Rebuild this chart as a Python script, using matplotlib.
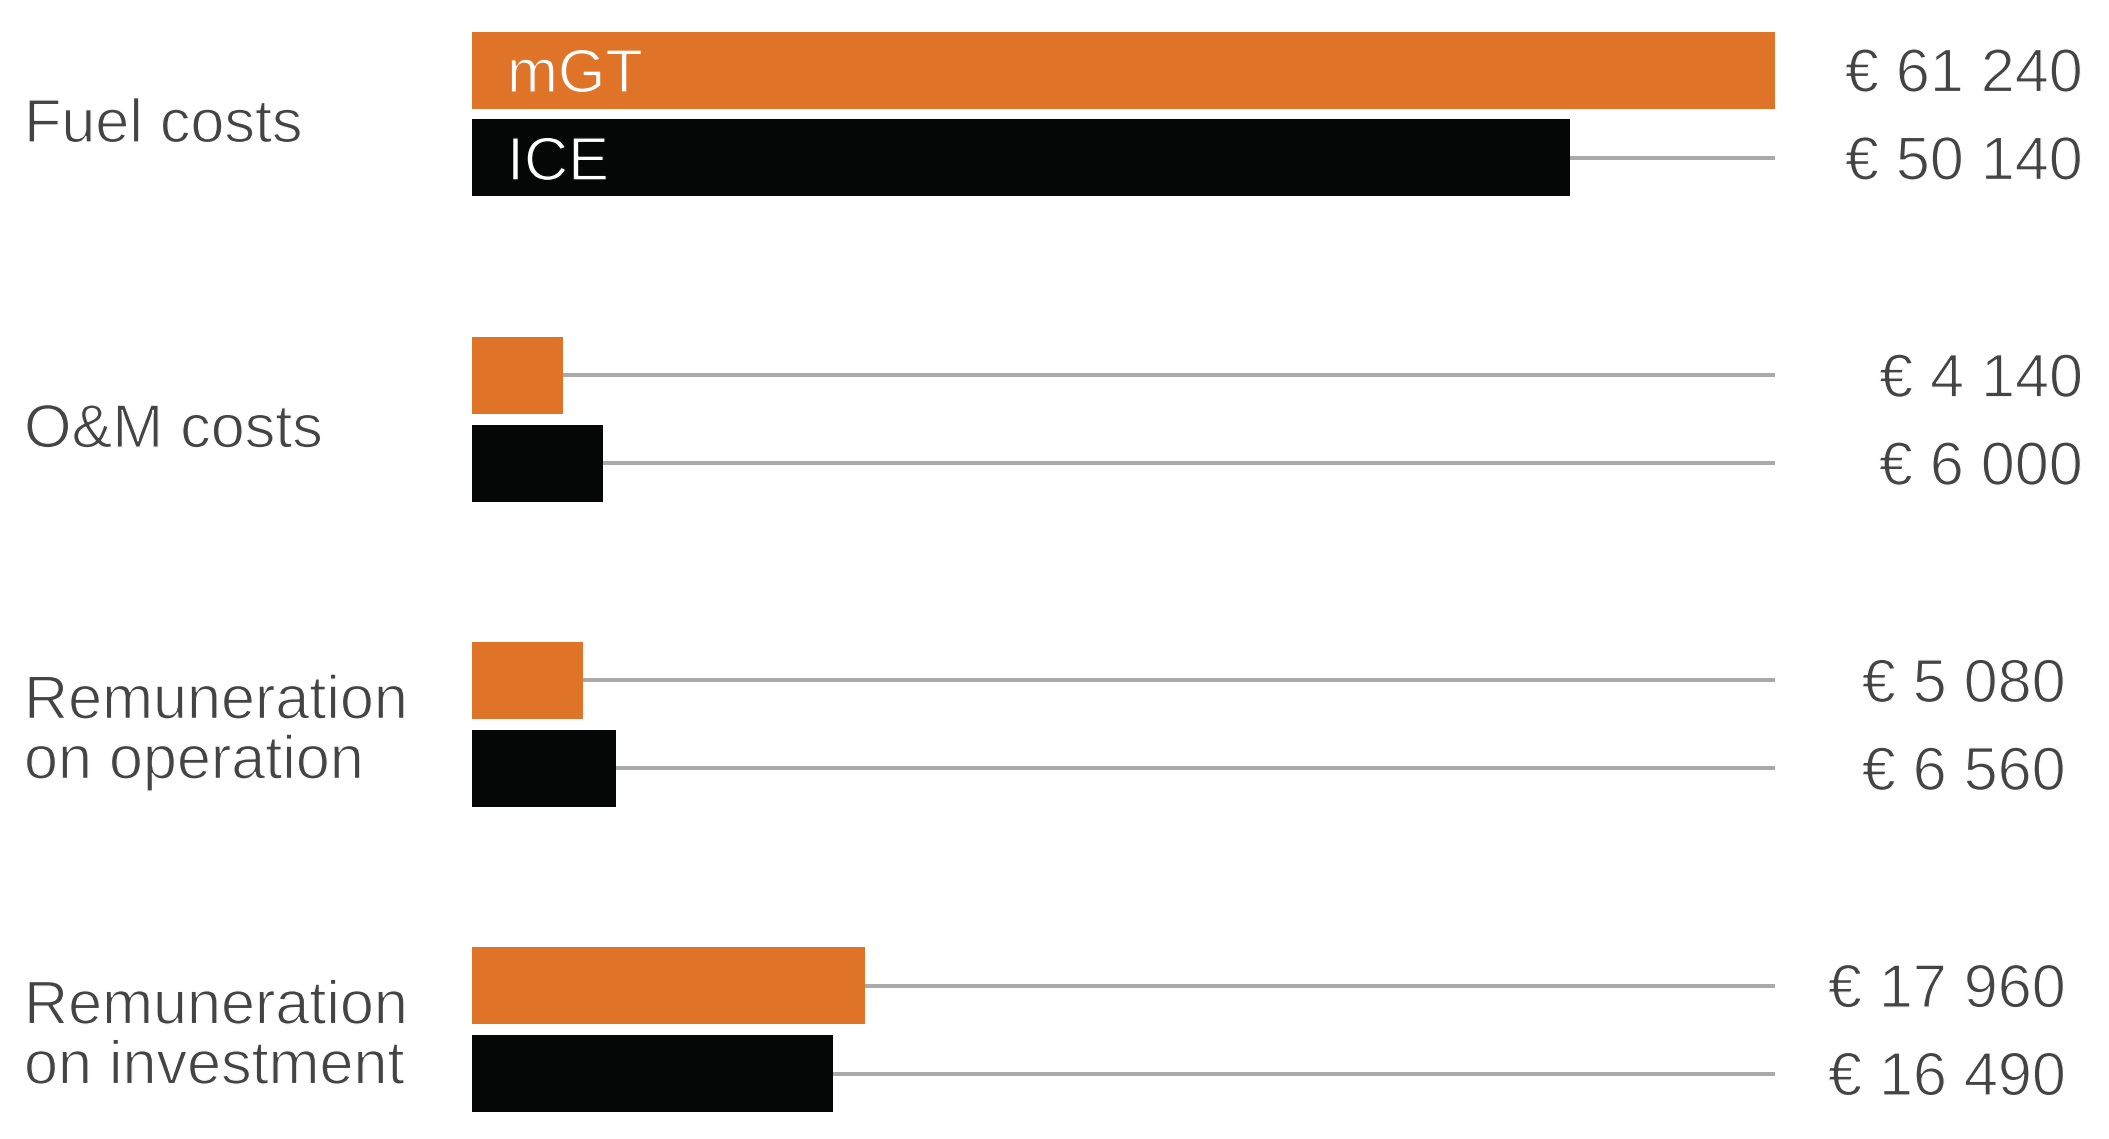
import matplotlib
matplotlib.use("Agg")
import matplotlib.pyplot as plt
import matplotlib.transforms as mtransforms
import matplotlib.patheffects as pe

# ---- data ----
categories = ["Fuel costs", "O&M costs", "Remuneration\non operation", "Remuneration\non investment"]
series_names = ["mGT", "ICE"]
mgt_values = [61240, 4140, 5080, 17960]
ice_values = [50140, 6000, 6560, 16490]

# ---- style ----
ORANGE = "#DF7328"
BLACK = "#050707"
GRAY = "#AAAAAA"
TEXT = "#444444"
FONT = ["Liberation Sans", "DejaVu Sans"]
FS = 44

W, H, DPI = 2109, 1139, 100
fig = plt.figure(figsize=(W / DPI, H / DPI), dpi=DPI)
fig.patch.set_facecolor("white")

ax_left, ax_right = 472, 1775
ax = fig.add_axes([ax_left / W, 0, (ax_right - ax_left) / W, 1])
ax.set_axis_off()

pitch_px = 305.2
first_center_px = 114
offset = 0.144
bar_h = 0.2525
XMAX = 59500

ax.set_xlim(0, XMAX)
ax.set_ylim((H - first_center_px) / pitch_px, -first_center_px / pitch_px)

px2pt = 72 / DPI
THIN = 1.3 * px2pt  # erode glyph outlines to imitate a light weight


def thin(bg):
    return [pe.Normal(), pe.Stroke(linewidth=THIN, foreground=bg)]


def fmt(v):
    return "€ " + f"{v:,}".replace(",", " ")


value_right_px = [2083, 2083, 2066, 2066]
tr = mtransforms.blended_transform_factory(fig.transFigure, ax.transData)

for i, cat in enumerate(categories):
    for j, (vals, color) in enumerate(((mgt_values, ORANGE), (ice_values, BLACK))):
        y = i + (offset if j else -offset)
        ax.plot([0, XMAX], [y, y], color=GRAY, lw=4 * px2pt, zorder=1,
                solid_capstyle="butt")
        ax.barh(y, vals[i], height=bar_h, color=color, zorder=2, linewidth=0)
        ax.annotate(fmt(vals[i]), xy=(value_right_px[i] / W, y), xycoords=tr,
                    xytext=(0, -21.5 * px2pt), textcoords="offset points",
                    ha="right", va="baseline", fontsize=FS, color=TEXT,
                    family=FONT, annotation_clip=False,
                    path_effects=thin("white"))
        if i == 0:
            ax.annotate(series_names[j], xy=(507 / W, y), xycoords=tr,
                        xytext=(0, -22 * px2pt), textcoords="offset points",
                        ha="left", va="baseline", fontsize=FS, color="white",
                        family=FONT, zorder=3, annotation_clip=False,
                        path_effects=thin(color))
    lines = cat.split("\n")
    n = len(lines)
    off = 6 if n == 1 else 2
    for k, line in enumerate(lines):
        base_px = off + (44 + 60 * (n - 1)) / 2 - 60 * (n - 1 - k)
        ax.annotate(line, xy=(24 / W, i), xycoords=tr,
                    xytext=(0, -base_px * px2pt), textcoords="offset points",
                    ha="left", va="baseline", fontsize=FS, color=TEXT,
                    family=FONT, annotation_clip=False,
                    path_effects=thin("white"))

fig.savefig("out.png", dpi=DPI, facecolor="white")
